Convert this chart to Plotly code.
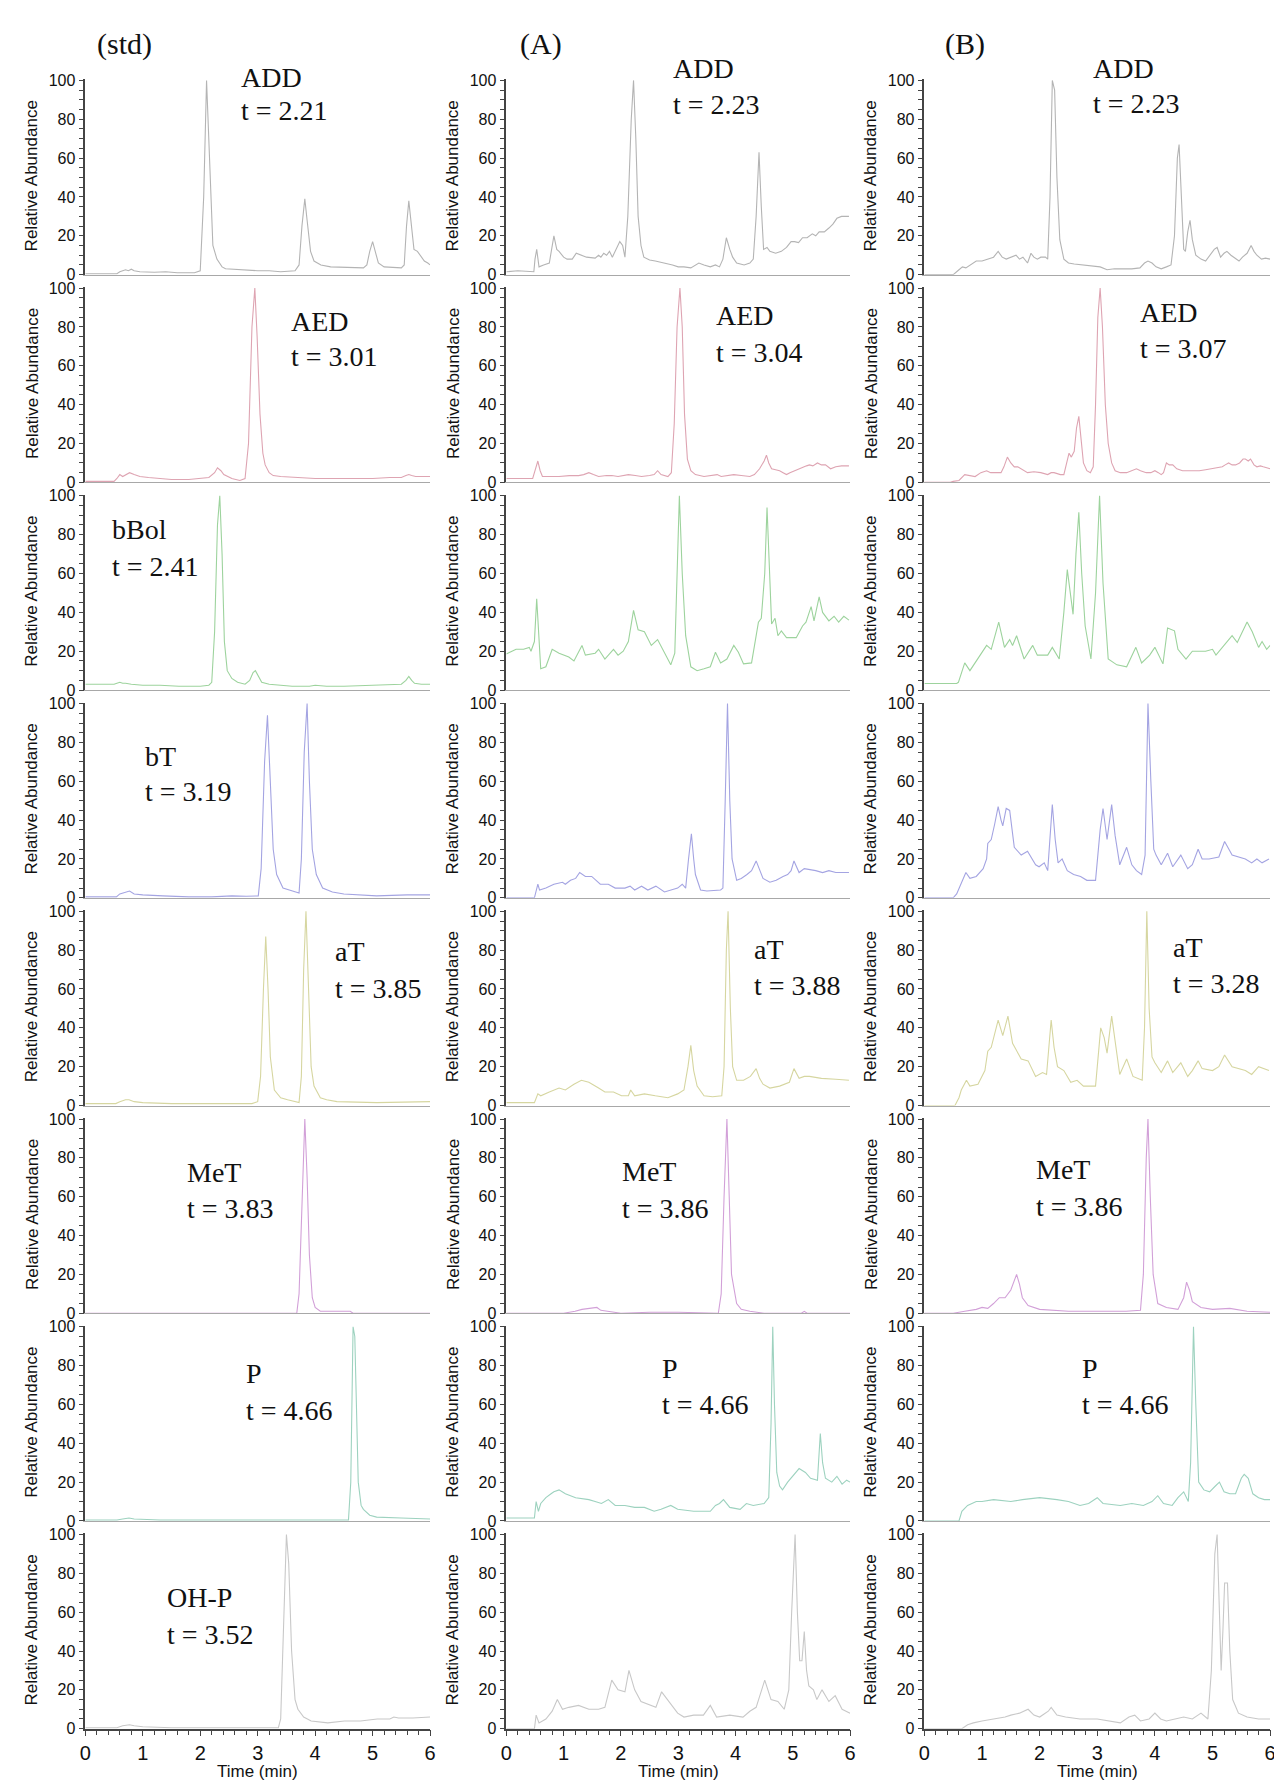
import plotly.graph_objects as go

# ---------------- data (time [min], relative abundance [%]) ----------------
std_ADD = [(0,0.5),(0.55,0.5),(0.6,1.5),(0.7,2.5),(0.75,2),(0.8,2.8),(0.85,2),(0.95,1.5),(1.2,1.2),(1.4,1.5),(1.6,1),(1.9,1),
           (2.0,2),(2.06,40),(2.11,100),(2.17,50),(2.22,15),(2.29,8),(2.38,4),(2.44,3),(2.7,2.5),(3.0,2),(3.2,2),(3.4,1.5),(3.65,2),
           (3.72,5),(3.77,25),(3.82,39),(3.86,28),(3.92,12),(3.98,7),(4.1,5),(4.27,4),(4.6,3.5),(4.84,3.5),(4.9,5),(4.95,12),(5.0,17),
           (5.04,13),(5.1,6),(5.2,4),(5.5,3.5),(5.55,5),(5.59,25),(5.63,38),(5.67,28),(5.72,13),(5.78,12),(5.85,9),(5.9,7),(5.96,6),(6.0,5)]
A_ADD = [(0,1.5),(0.2,2),(0.48,1.5),(0.5,8),(0.53,13),(0.57,4),(0.65,5),(0.75,6),(0.83,20),(0.88,13),(0.92,12),(1.0,9),(1.06,8),
         (1.15,8),(1.22,11),(1.3,10),(1.4,9),(1.55,8.5),(1.61,10),(1.65,9),(1.7,11),(1.75,10),(1.8,12),(1.85,9),(1.93,14),(1.98,17),
         (2.03,15),(2.07,9),(2.12,30),(2.18,80),(2.22,100),(2.26,70),(2.3,30),(2.35,15),(2.4,9),(2.5,7.5),(2.6,7),(2.76,6),(2.9,5),
         (3.0,4),(3.1,4),(3.22,3.5),(3.3,5),(3.36,6),(3.45,5),(3.56,4),(3.65,5),(3.72,4),(3.78,8),(3.84,19),(3.9,13),(3.95,9),(4.02,6),
         (4.15,5),(4.25,6),(4.31,8),(4.36,30),(4.41,63),(4.45,35),(4.49,13),(4.55,14),(4.6,12),(4.7,11),(4.8,12),(4.89,14),(4.97,17),
         (5.03,17),(5.1,16.5),(5.17,19),(5.25,19),(5.34,21),(5.4,20),(5.46,22),(5.55,22),(5.63,24),(5.7,26),(5.77,29),(5.85,30),(5.98,30)]
B_ADD = [(0,0),(0.5,0),(0.58,2),(0.66,4),(0.72,3.5),(0.8,5),(0.9,7),(1.0,7),(1.1,8),(1.2,9),(1.28,12),(1.35,9),(1.42,8),(1.5,9),
         (1.59,10),(1.65,8),(1.71,9),(1.79,6),(1.85,11),(1.9,9),(1.96,8),(2.02,9),(2.1,9),(2.14,8),(2.18,40),(2.22,100),(2.26,95),
         (2.3,50),(2.35,18),(2.42,8),(2.5,6),(2.6,5.5),(2.75,5),(2.9,4.5),(3.05,4),(3.17,2.5),(3.3,3),(3.45,3),(3.6,3),(3.74,3.5),
         (3.82,6),(3.88,7),(3.95,6),(4.02,4),(4.11,3),(4.2,4),(4.28,5),(4.34,20),(4.39,60),(4.42,67),(4.46,40),(4.5,13),(4.53,12),
         (4.57,22),(4.61,28),(4.65,18),(4.71,10),(4.8,8),(4.88,7),(4.95,10),(5.03,13),(5.08,14),(5.14,9),(5.2,11),(5.25,12),(5.32,10),
         (5.4,8),(5.46,7),(5.52,9),(5.6,11),(5.67,15),(5.72,12),(5.77,10),(5.85,8),(5.92,8.5),(6.0,8)]

std_AED = [(0,0.5),(0.5,0.5),(0.55,2),(0.6,4),(0.65,3),(0.72,4),(0.77,5),(0.85,4),(0.95,3),(1.1,2.5),(1.25,2),(1.5,1.5),(1.8,1.5),
           (2.0,2),(2.15,2.5),(2.25,5),(2.3,7.5),(2.36,6),(2.41,4),(2.55,2),(2.69,1),(2.78,2),(2.84,20),(2.9,80),(2.95,100),(2.99,75),
           (3.04,35),(3.09,15),(3.13,9),(3.2,5),(3.27,3.5),(3.4,3),(3.7,2.5),(4.0,2),(4.5,2),(5.0,2),(5.3,2.5),(5.5,2.5),(5.58,3.5),
           (5.63,4),(5.68,3.5),(5.75,3),(6.0,3)]
A_AED = [(0,2),(0.3,2),(0.46,2),(0.5,6),(0.55,11),(0.59,6),(0.63,3),(0.75,3),(0.92,3),(1.1,3.5),(1.26,3.5),(1.35,4),(1.44,5),(1.52,4),
         (1.61,3),(1.75,3.5),(1.84,3.5),(1.95,3),(2.05,3.5),(2.13,4),(2.25,3.5),(2.36,3),(2.5,3.5),(2.58,4),(2.64,6),(2.7,4),(2.82,3),
         (2.88,5),(2.93,30),(2.98,80),(3.03,100),(3.07,80),(3.11,35),(3.16,12),(3.22,6),(3.3,4),(3.45,3),(3.6,3.5),(3.68,4),(3.75,3),
         (3.85,3.5),(3.97,4),(4.1,3.5),(4.25,3),(4.33,4),(4.42,7),(4.5,11),(4.54,14),(4.58,10),(4.63,7),(4.7,6.5),(4.77,6),(4.83,5),
         (4.89,4),(4.95,5),(5.03,6),(5.1,7),(5.17,8),(5.24,8.5),(5.29,9),(5.35,8.5),(5.43,10),(5.5,9),(5.57,9),(5.66,7),(5.75,8),
         (5.85,8.5),(5.98,8.5)]
B_AED = [(0,0),(0.45,0),(0.5,0.5),(0.6,1),(0.7,4),(0.8,3.5),(0.88,3),(0.98,5),(1.08,6),(1.15,5),(1.22,5),(1.33,5),(1.38,8),(1.44,13),
         (1.5,10),(1.56,8),(1.62,8),(1.68,7),(1.79,5),(1.9,5.5),(2.02,5),(2.14,4),(2.2,5),(2.25,5),(2.36,4),(2.42,4),(2.47,10),(2.51,15),
         (2.55,13),(2.6,16),(2.64,28),(2.68,34),(2.72,22),(2.76,10),(2.82,6),(2.88,5),(2.93,8),(2.97,40),(3.01,85),(3.05,100),(3.09,80),
         (3.14,40),(3.19,20),(3.25,10),(3.31,6),(3.4,5),(3.51,5),(3.6,6),(3.68,7),(3.75,6),(3.85,5),(3.93,5),(4.0,6),(4.06,5),(4.11,4),
         (4.15,5),(4.2,10),(4.25,9),(4.31,9),(4.38,7),(4.48,6),(4.6,6),(4.77,6),(4.88,6.5),(5.0,7),(5.1,7.5),(5.17,8),(5.22,9),(5.28,10),
         (5.34,9),(5.4,9),(5.47,10),(5.53,12),(5.57,12),(5.62,11),(5.66,12),(5.72,9),(5.77,8),(5.83,8.5),(5.88,8),(5.94,7.5),(6.0,7)]

std_bBol = [(0,3),(0.5,3),(0.55,3.5),(0.6,4),(0.65,3.5),(0.7,3.5),(0.8,3),(1.0,2.5),(1.3,2.5),(1.63,2),(2.0,2),(2.15,2.5),(2.2,4),
            (2.25,30),(2.3,85),(2.34,100),(2.38,70),(2.42,25),(2.47,10),(2.55,6),(2.65,4),(2.78,3),(2.86,5),(2.92,9),(2.96,10),(3.01,7),
            (3.07,4),(3.2,3),(3.35,2.5),(3.6,2),(3.9,2),(4.0,2.5),(4.2,2),(4.5,2),(5.0,2.5),(5.3,3),(5.5,3),(5.58,5),(5.63,7),(5.68,5),
            (5.73,3.5),(5.85,3),(6.0,3)]
A_bBol = [(0,18.6),(0.17,21),(0.3,21),(0.4,22),(0.43,20),(0.49,25),(0.53,47),(0.6,11),(0.69,12),(0.8,21),(0.92,19),(1.09,17),(1.18,15),
          (1.32,23),(1.38,18),(1.55,19),(1.61,21),(1.72,16),(1.87,21),(1.95,18),(2.04,20),(2.13,25),(2.22,41),(2.3,31),(2.41,30),(2.53,23),
          (2.64,26),(2.75,20),(2.87,13),(2.94,19),(2.98,60),(3.02,100),(3.07,60),(3.13,28),(3.22,12),(3.33,10),(3.45,11),(3.56,12),
          (3.65,19.5),(3.74,14),(3.85,16),(3.97,23),(4.05,19.5),(4.14,13.5),(4.28,14),(4.4,35),(4.45,37),(4.51,60),(4.55,94),(4.6,60),
          (4.63,34),(4.69,37),(4.74,28),(4.8,30.5),(4.89,27),(5.06,27),(5.17,33),(5.23,35),(5.32,43),(5.37,35.6),(5.46,48),(5.52,40),
          (5.63,35.6),(5.72,38),(5.8,35),(5.89,38),(5.98,36)]
B_bBol = [(0,3.4),(0.2,3.4),(0.56,3.4),(0.59,4),(0.7,14),(0.79,10),(0.93,16),(1.08,23),(1.16,21),(1.29,35),(1.39,22),(1.48,26),(1.53,23),
          (1.6,28),(1.73,16),(1.88,23),(1.96,18),(2.14,18),(2.22,22),(2.34,16),(2.42,40),(2.48,62),(2.58,39),(2.63,70),(2.68,91.5),
          (2.73,60),(2.79,33),(2.89,16),(2.97,50),(3.04,100),(3.1,55),(3.19,16),(3.34,13),(3.51,12),(3.67,22),(3.77,14),(3.91,18),(4.0,22),
          (4.14,13.5),(4.22,32),(4.34,30.5),(4.4,21),(4.54,16),(4.65,20),(4.88,20),(5.0,21),(5.06,18),(5.2,23),(5.34,28),(5.43,24.5),
          (5.6,35),(5.69,30),(5.8,22),(5.86,25),(5.94,21),(6.0,23)]

std_bT = [(0,0.5),(0.54,0.5),(0.6,2),(0.7,3),(0.77,3.5),(0.85,2),(1.0,1.5),(1.35,1),(1.8,0.5),(2.2,0.5),(2.55,1),(2.8,0.8),(3.01,1),
          (3.06,15),(3.12,70),(3.17,94),(3.22,60),(3.27,25),(3.33,12),(3.44,5),(3.55,4),(3.67,3),(3.72,2.5),(3.76,20),(3.81,75),(3.86,100),
          (3.9,60),(3.95,25),(4.02,12),(4.13,5),(4.3,3),(4.5,2),(5.07,1),(5.6,1.5),(6.0,1.5)]
A_bT = [(0,0),(0.49,0),(0.55,7),(0.58,4),(0.69,5),(0.83,7),(0.98,8),(1.03,7),(1.12,9),(1.21,10),(1.28,13),(1.38,11),(1.49,11),(1.64,7),
        (1.78,7),(1.9,5),(2.07,5),(2.16,6),(2.24,4),(2.36,6),(2.47,4),(2.61,6),(2.76,3),(2.9,4),(2.99,5),(3.07,7),(3.13,5),(3.18,20),
        (3.23,33),(3.27,20),(3.3,12),(3.39,4),(3.5,3.5),(3.74,4),(3.78,5),(3.82,50),(3.86,100),(3.9,50),(3.94,20),(4.02,9),(4.1,10),
        (4.2,12),(4.28,14),(4.36,19),(4.42,14),(4.48,10),(4.6,8),(4.71,9),(4.83,11),(4.91,12),(4.97,14),(5.02,19),(5.11,13),(5.2,15),
        (5.3,14.5),(5.4,14),(5.52,13),(5.63,14),(5.75,13),(5.98,13)]
B_bT = [(0,0),(0.5,0),(0.56,2),(0.62,6),(0.68,10),(0.72,13),(0.79,10),(0.9,11),(1.02,15),(1.08,20),(1.1,28),(1.16,30),(1.22,38),(1.28,47),
        (1.33,40),(1.36,37),(1.42,46),(1.48,45),(1.56,26),(1.68,22),(1.79,24),(1.93,17),(1.99,16),(2.08,18),(2.14,14),(2.18,30),(2.22,48),
        (2.27,30),(2.32,18),(2.39,20),(2.48,14),(2.59,12),(2.71,11),(2.82,9),(2.97,9),(3.05,35),(3.1,46),(3.17,30),(3.25,48),(3.31,32),
        (3.39,17),(3.51,26),(3.6,17),(3.68,14),(3.77,12),(3.83,22),(3.88,100),(3.93,60),(3.98,25),(4.02,22),(4.11,17),(4.22,23),(4.31,16),
        (4.45,22),(4.57,15),(4.65,17),(4.75,25),(4.82,20),(4.94,20),(5.11,21),(5.21,29),(5.34,22),(5.57,20),(5.68,18),(5.77,20),(5.86,18),
        (5.98,20)]

std_aT = [(0,1),(0.53,1),(0.6,2),(0.7,3),(0.76,3),(0.85,2),(1.0,1.5),(1.5,1),(2.0,1),(2.5,1),(2.9,1),(3.0,2),(3.05,15),(3.1,60),(3.14,87),
          (3.18,60),(3.22,25),(3.29,8),(3.4,4),(3.52,3),(3.65,2),(3.72,1.5),(3.76,15),(3.8,70),(3.84,100),(3.88,60),(3.93,20),(3.98,10),
          (4.09,4),(4.2,3),(4.38,2),(5.07,1.5),(6.0,2)]
A_aT = [(0,1.5),(0.49,1.5),(0.55,6),(0.6,5),(0.75,7),(0.92,9),(1.03,8),(1.18,11),(1.31,13),(1.44,12),(1.61,9),(1.72,7),(1.87,7),(2.01,5),
        (2.13,5),(2.17,8),(2.24,5),(2.41,6),(2.6,5),(2.82,4),(2.99,6),(3.1,8),(3.17,20),(3.22,31),(3.27,18),(3.33,10),(3.45,5),(3.6,4.5),
        (3.76,5),(3.8,20),(3.84,80),(3.87,100),(3.91,50),(3.95,20),(4.02,13),(4.14,13),(4.26,15),(4.36,19),(4.42,14),(4.48,11),(4.6,9),
        (4.77,10),(4.94,12),(5.02,19),(5.11,14),(5.2,15),(5.29,15),(5.5,14),(5.75,13.5),(5.98,13)]
B_aT = [(0,0),(0.53,0),(0.6,4),(0.64,8),(0.73,13),(0.79,10),(0.93,11),(1.05,18),(1.1,28),(1.16,30),(1.28,44),(1.36,36),(1.45,46),(1.53,32),
        (1.68,24),(1.8,23),(1.93,15),(2.05,17),(2.12,16),(2.2,44),(2.25,30),(2.31,20),(2.42,18),(2.54,12),(2.65,13),(2.76,10),(2.97,10),
        (3.06,40),(3.12,35),(3.17,27),(3.25,46),(3.34,25),(3.39,16),(3.51,24),(3.62,15),(3.78,13),(3.82,40),(3.86,100),(3.9,50),(3.95,25),
        (4.0,22),(4.11,17),(4.22,23),(4.31,17),(4.45,22),(4.57,15),(4.65,18),(4.75,23),(4.82,19),(5.0,18),(5.11,20),(5.21,26),(5.34,20),
        (5.57,18),(5.68,16),(5.8,20),(5.98,18)]

std_MeT = [(0,0),(3.68,0),(3.72,10),(3.77,60),(3.82,100),(3.86,70),(3.9,30),(3.95,8),(4.0,3),(4.09,1),(4.61,1),(4.66,0),(6.0,0)]
A_MeT = [(0,0),(0.6,0),(1.0,0),(1.2,1),(1.32,2),(1.45,2.5),(1.58,3),(1.65,1.5),(1.75,1),(2.0,0),(2.5,0.5),(3.0,0.5),(3.7,0),(3.75,10),
         (3.8,60),(3.85,100),(3.89,60),(3.93,20),(4.02,5),(4.1,2),(4.25,1),(4.5,0),(5.15,0),(5.2,1),(5.25,0),(6.0,0)]
B_MeT = [(0,0),(0.5,0),(0.7,1),(0.9,2),(1.0,3),(1.1,2.5),(1.2,5),(1.3,8),(1.4,8),(1.5,12),(1.6,20),(1.65,15),(1.7,8),(1.8,4),(2.0,2),
         (2.5,1),(3.0,1),(3.5,1),(3.75,1.5),(3.8,20),(3.85,80),(3.88,100),(3.92,60),(3.97,20),(4.05,5),(4.2,3),(4.4,2),(4.5,8),(4.55,16),
         (4.6,12),(4.65,6),(4.8,3),(5.0,2),(5.3,2.5),(5.6,1),(6.0,0.5)]

std_P = [(0,0.5),(0.55,0.5),(0.65,1),(0.76,1.5),(0.85,1),(1.3,0.5),(2.5,0.5),(3.5,0.5),(4.0,0.5),(4.4,0.7),(4.58,0.5),(4.62,20),
         (4.66,100),(4.69,95),(4.72,50),(4.75,20),(4.8,8),(4.84,6),(4.95,3),(5.07,2),(5.5,1.5),(6.0,1)]
A_P = [(0,1.5),(0.49,1.5),(0.52,10),(0.56,5),(0.6,9),(0.69,12),(0.78,14),(0.83,15),(0.92,16),(1.03,14),(1.21,12),(1.44,11),(1.55,10),
       (1.66,9),(1.78,11),(1.9,8),(2.07,8),(2.24,7),(2.41,7),(2.5,6),(2.58,5),(2.7,6),(2.87,8),(2.99,6),(3.27,5),(3.56,5),(3.65,8),
       (3.72,9),(3.79,11),(3.9,7),(4.08,6),(4.19,9),(4.31,8),(4.5,9),(4.58,12),(4.62,50),(4.65,100),(4.68,60),(4.72,25),(4.77,18),
       (4.82,16),(4.91,20),(5.02,24),(5.11,27),(5.22,25),(5.31,22),(5.43,21),(5.46,35),(5.48,45),(5.52,30),(5.57,22),(5.68,20),
       (5.77,23),(5.86,19),(5.94,21),(6.0,20)]
B_P = [(0,0),(0.6,0),(0.65,5),(0.75,8),(0.9,10),(1.0,10),(1.2,11),(1.5,10),(1.7,11),(2.0,12),(2.3,11),(2.5,10),(2.7,8),(2.85,9),(3.0,12),
       (3.1,9),(3.4,8),(3.6,9),(3.8,8),(3.95,10),(4.05,13),(4.15,9),(4.3,8),(4.4,12),(4.5,15),(4.58,10),(4.62,30),(4.67,100),(4.71,60),
       (4.76,20),(4.85,16),(4.95,15),(5.05,18),(5.12,20),(5.2,15),(5.3,14),(5.4,14),(5.5,22),(5.55,24),(5.62,22),(5.7,14),(5.8,12),
       (5.9,11),(6.0,11)]

std_OHP = [(0,0.5),(0.55,0.5),(0.65,1.5),(0.77,2),(0.85,1.5),(1.0,1),(1.5,0.5),(2.0,0.5),(3.0,0.5),(3.36,0.5),(3.4,5),(3.45,50),
           (3.5,100),(3.54,85),(3.59,40),(3.65,15),(3.7,10),(3.8,6),(3.93,4),(4.22,3),(4.51,4),(4.79,4),(5.08,5),(5.3,5),(5.37,6),
           (5.45,5.5),(5.7,5.5),(6.0,6)]
A_OHP = [(0,0),(0.49,0),(0.52,7),(0.57,3),(0.69,5),(0.8,9),(0.89,15),(0.98,10),(1.09,11),(1.26,12),(1.44,10),(1.61,10),(1.72,11),
         (1.84,25),(1.95,20),(2.07,19),(2.14,30),(2.24,20),(2.35,14),(2.53,12),(2.61,11),(2.71,19),(2.84,14),(2.99,8),(3.1,6),(3.27,7),
         (3.44,7),(3.56,12),(3.67,6),(3.9,7),(4.13,6),(4.25,9),(4.36,11),(4.51,25),(4.62,15),(4.74,14),(4.85,10),(4.93,20),(4.98,60),
         (5.04,100),(5.08,60),(5.12,35),(5.16,35),(5.2,50),(5.24,30),(5.28,22),(5.36,20),(5.42,15),(5.51,20),(5.63,14),(5.74,17),
         (5.86,10),(6.0,8)]
B_OHP = [(0,0),(0.65,0),(0.75,2),(0.85,3),(1.0,4),(1.2,5),(1.4,6),(1.5,7),(1.65,8),(1.8,10),(1.9,7),(2.0,6),(2.15,9),(2.2,11),(2.3,7),
         (2.45,6),(2.7,5),(3.0,5),(3.2,4),(3.4,3),(3.55,6),(3.65,7),(3.75,4),(3.9,5),(4.0,8),(4.1,5),(4.2,4),(4.35,5),(4.5,6),(4.65,5),
         (4.8,8),(4.92,5),(4.98,30),(5.04,90),(5.08,100),(5.12,60),(5.15,30),(5.18,50),(5.21,75),(5.26,75),(5.3,40),(5.35,15),(5.45,8),
         (5.6,6),(5.8,5),(6.0,5)]

panels = [
    [std_ADD, A_ADD, B_ADD],
    [std_AED, A_AED, B_AED],
    [std_bBol, A_bBol, B_bBol],
    [std_bT, A_bT, B_bT],
    [std_aT, A_aT, B_aT],
    [std_MeT, A_MeT, B_MeT],
    [std_P, A_P, B_P],
    [std_OHP, A_OHP, B_OHP],
]
row_colors = ["#b4b4b4", "#dea4b2", "#9dd39d", "#a4a4e2", "#d6d6a0", "#d2a0d8", "#9dd2bf", "#c8c8c8"]
column_titles = ["(std)", "(A)", "(B)"]

# compound labels: (row, col, name, time label)
labels = [
    (0, 0, "ADD", "t = 2.21"), (1, 0, "AED", "t = 3.01"), (2, 0, "bBol", "t = 2.41"), (3, 0, "bT", "t = 3.19"),
    (4, 0, "aT", "t = 3.85"), (5, 0, "MeT", "t = 3.83"), (6, 0, "P", "t = 4.66"), (7, 0, "OH-P", "t = 3.52"),
    (0, 1, "ADD", "t = 2.23"), (1, 1, "AED", "t = 3.04"), (4, 1, "aT", "t = 3.88"), (5, 1, "MeT", "t = 3.86"), (6, 1, "P", "t = 4.66"),
    (0, 2, "ADD", "t = 2.23"), (1, 2, "AED", "t = 3.07"), (4, 2, "aT", "t = 3.28"), (5, 2, "MeT", "t = 3.86"), (6, 2, "P", "t = 4.66"),
]
# label placement in pixels: left x, centre y of line 1, centre y of line 2
label_pos = {
    (0, 0): (227, 63, 96), (1, 0): (278, 309, 345), (2, 0): (97, 519, 556), (3, 0): (130, 748, 784),
    (4, 0): (322, 945, 982), (5, 0): (173, 1168, 1204), (6, 0): (232, 1371, 1408), (7, 0): (152, 1597, 1634),
    (0, 1): (663, 54, 90), (1, 1): (707, 303, 341), (4, 1): (745, 943, 979), (5, 1): (612, 1167, 1204), (6, 1): (652, 1366, 1402),
    (0, 2): (1087, 54, 89), (1, 2): (1135, 300, 337), (4, 2): (1168, 941, 977), (5, 2): (1030, 1165, 1202), (6, 2): (1076, 1366, 1402),
}

# ---------------- layout geometry ----------------
W, H = 1282, 1785
col_px = [(72, 420), (497, 844), (919, 1268)]
top0, bot0, pitch = 66.0, 262.0, 209.6
YMAX = 100.5

SANS = "Liberation Sans, Arial, sans-serif"
SERIF = "Liberation Serif, Times New Roman, serif"

fig = go.Figure()
layout = dict(width=W, height=H, margin=dict(l=0, r=0, t=0, b=0), paper_bgcolor="white",
              plot_bgcolor="white", showlegend=False)
annotations = []

for r in range(8):
    for c in range(3):
        idx = r * 3 + c + 1
        xs = "" if idx == 1 else str(idx)
        pts = panels[r][c]
        fig.add_trace(go.Scatter(x=[p[0] for p in pts], y=[p[1] for p in pts], mode="lines",
                                 line=dict(color=row_colors[r], width=1.1), xaxis="x" + xs, yaxis="y" + xs,
                                 hoverinfo="skip"))
        x0, x1 = col_px[c]
        y100 = top0 + pitch * r
        y0 = bot0 + pitch * r
        ytop = y0 - (y0 - y100) * YMAX / 100.0
        bottom = (r == 7)
        xa = dict(domain=[x0 / W, x1 / W], anchor="y" + xs, range=[0, 6], showgrid=False, zeroline=False,
                  showline=True, fixedrange=True)
        if bottom:
            xa.update(linecolor="#444", linewidth=1.5, ticks="outside", ticklen=6, tickwidth=1.3, tickcolor="#444",
                      tickmode="linear", tick0=0, dtick=1,
                      minor=dict(dtick=0.2, ticks="outside", ticklen=5, tickcolor="#444", tickwidth=1.2, showgrid=False),
                      tickfont=dict(family=SANS, size=20, color="#111"))
        else:
            xa.update(linecolor="#a8a8a8", linewidth=1, ticks="", showticklabels=False)
        ya = dict(domain=[1 - y0 / H, 1 - ytop / H], anchor="x" + xs, range=[0, YMAX], showgrid=False,
                  zeroline=False, showline=True, linecolor="#444", linewidth=1.5, ticks="outside", ticklen=5,
                  tickwidth=1.3, tickcolor="#444", tickmode="linear", tick0=0, dtick=20,
                  minor=dict(dtick=5, ticks="outside", ticklen=5, tickcolor="#444", tickwidth=1.2, showgrid=False),
                  tickfont=dict(family=SANS, size=16, color="#111"), fixedrange=True)
        layout["xaxis" + xs] = xa
        layout["yaxis" + xs] = ya
        # y axis title
        annotations.append(dict(text="Relative Abundance", xref="paper", yref="paper", x=(x0 - 54) / W,
                                y=1 - ((y0 + y100) / 2 - 2) / H, textangle=-90, showarrow=False,
                                xanchor="center", yanchor="middle", font=dict(family=SANS, size=17, color="#111")))
        if bottom:
            annotations.append(dict(text="Time (min)", xref="paper", yref="paper", x=(x0 + x1) / 2 / W,
                                    y=1 - 1772 / H, showarrow=False, xanchor="center", yanchor="middle",
                                    font=dict(family=SANS, size=17, color="#111")))

for r, c, name, tlab in labels:
    lx, ly1, ly2 = label_pos[(r, c)]
    for txt, ly in ((name, ly1), (tlab, ly2)):
        annotations.append(dict(text=txt, xref="paper", yref="paper", x=lx / W, y=1 - ly / H, showarrow=False,
                                xanchor="left", yanchor="middle", font=dict(family=SERIF, size=28, color="#111")))

title_x = [112, 532, 960]
for c, t in enumerate(column_titles):
    annotations.append(dict(text=t, xref="paper", yref="paper", x=title_x[c] / W, y=1 - 29 / H, showarrow=False,
                            xanchor="center", yanchor="middle", font=dict(family=SERIF, size=30, color="#111")))

layout["annotations"] = annotations
fig.update_layout(**layout)
fig.write_html("out.html")
